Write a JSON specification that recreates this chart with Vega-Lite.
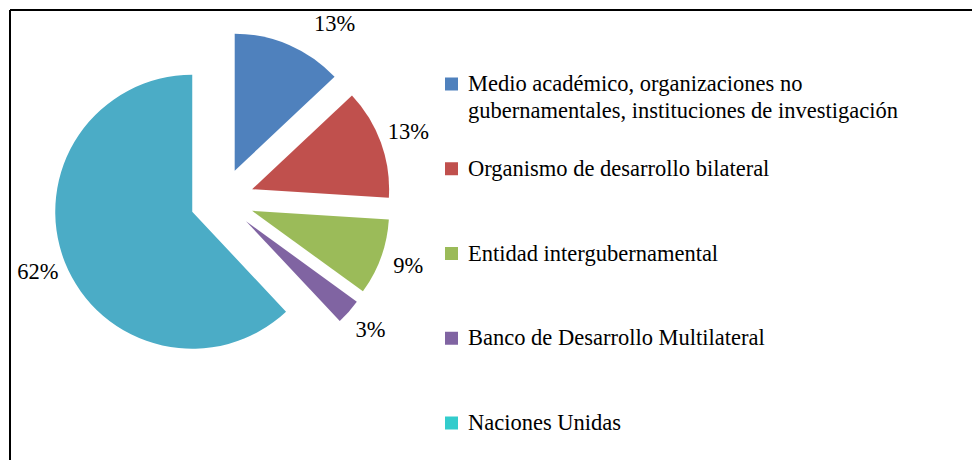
{
  "$schema": "https://vega.github.io/schema/vega-lite/v6.json",
  "background": "white",
  "padding": {"left": 10, "top": 10, "right": 0, "bottom": 0},
  "width": 962,
  "height": 450,
  "view": {"stroke": "#000000", "strokeWidth": 2, "strokeDash": [962, 1412, 450, 0]},
  "config": {"font": "Liberation Serif"},
  "data": {
    "values": [
      {"grupo": "Medio académico, organizaciones no\ngubernamentales, instituciones de investigación", "share": 0.13},
      {"grupo": "Organismo de desarrollo bilateral", "share": 0.13},
      {"grupo": "Entidad intergubernamental", "share": 0.09},
      {"grupo": "Banco de Desarrollo Multilateral", "share": 0.03},
      {"grupo": "Naciones Unidas", "share": 0.62}
    ]
  },
  "transform": [{"window": [{"op": "row_number", "as": "orden"}]}],
  "layer": [
    {
      "mark": {
        "type": "arc",
        "outerRadius": 137,
        "xOffset": {"expr": "-269+32*sin(PI*(datum.share_start+datum.share_end))"},
        "yOffset": {"expr": "-35-32*cos(PI*(datum.share_start+datum.share_end))"}
      },
      "encoding": {
        "theta": {"field": "share", "type": "quantitative", "stack": true},
        "order": {"field": "orden", "type": "quantitative"},
        "color": {
          "field": "grupo",
          "type": "nominal",
          "sort": null,
          "scale": {
            "domain": [
              "Medio académico, organizaciones no\ngubernamentales, instituciones de investigación",
              "Organismo de desarrollo bilateral",
              "Entidad intergubernamental",
              "Banco de Desarrollo Multilateral",
              "Naciones Unidas"
            ],
            "range": ["#4F81BD", "#C0504D", "#9BBB59", "#8064A2", "#4BACC6"]
          },
          "legend": null
        }
      }
    },
    {
      "mark": {
        "type": "text",
        "radius": 166,
        "fontSize": 22.5,
        "font": "Liberation Serif",
        "color": "#000000",
        "align": "center",
        "baseline": "middle",
        "xOffset": {"expr": "-269+32*sin(PI*(datum.share_start+datum.share_end))+(datum.orden==1?34:0)"},
        "yOffset": {"expr": "-36-32*cos(PI*(datum.share_start+datum.share_end))+(datum.orden==1?7:0)"}
      },
      "encoding": {
        "theta": {"field": "share", "type": "quantitative", "stack": true},
        "order": {"field": "orden", "type": "quantitative"},
        "text": {"field": "share", "type": "quantitative", "format": ".0%"}
      }
    },
    {
      "mark": {"type": "square", "size": 169, "opacity": 1, "filled": true, "xOffset": -39.5},
      "encoding": {
        "y": {"field": "grupo", "type": "nominal", "sort": null, "scale": {"type": "point", "range": [74, 413], "padding": 0}, "axis": null},
        "color": {
          "field": "grupo",
          "type": "nominal",
          "sort": null,
          "scale": {
            "domain": [
              "Medio académico, organizaciones no\ngubernamentales, instituciones de investigación",
              "Organismo de desarrollo bilateral",
              "Entidad intergubernamental",
              "Banco de Desarrollo Multilateral",
              "Naciones Unidas"
            ],
            "range": ["#4F81BD", "#C0504D", "#9BBB59", "#8064A2", "#33CCCC"]
          },
          "legend": null
        }
      }
    },
    {
      "mark": {
        "type": "text",
        "align": "left",
        "baseline": "alphabetic",
        "xOffset": -23,
        "dy": 7,
        "fontSize": 22.5,
        "font": "Liberation Serif",
        "color": "#000000",
        "lineBreak": "\n",
        "lineHeight": 27
      },
      "encoding": {
        "y": {"field": "grupo", "type": "nominal", "sort": null, "scale": {"type": "point", "range": [74, 413], "padding": 0}, "axis": null},
        "text": {"field": "grupo", "type": "nominal"}
      }
    }
  ],
  "resolve": {"scale": {"color": "independent"}}
}
